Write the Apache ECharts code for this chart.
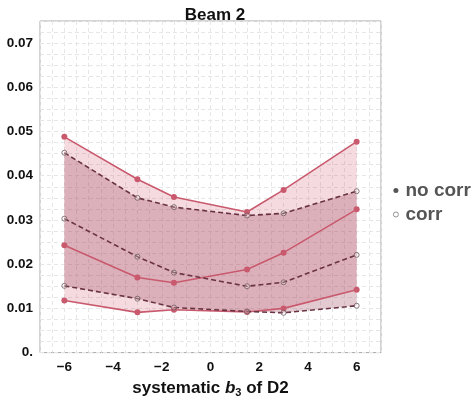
<!DOCTYPE html>
<html><head><meta charset="utf-8">
<script src="https://cdn.jsdelivr.net/npm/echarts@6/dist/echarts.min.js"></script>
<style>html,body{margin:0;padding:0;background:#fff}#c{width:475px;height:403px}</style>
</head><body><div id="c"></div>
<script>
// data
var xValues = [-6, -3, -1.5, 1.5, 3, 6];
var noCorrUpper = [0.0488, 0.0392, 0.0352, 0.0318, 0.0368, 0.0477];
var noCorrMid   = [0.0243, 0.0170, 0.0158, 0.0188, 0.0226, 0.0324];
var noCorrLower = [0.0118, 0.0091, 0.0097, 0.0092, 0.0100, 0.0142];
var corrUpper = [0.0452, 0.0350, 0.0329, 0.0310, 0.0315, 0.0365];
var corrMid   = [0.0303, 0.0217, 0.0181, 0.0150, 0.0159, 0.0221];
var corrLower = [0.0151, 0.0122, 0.0102, 0.0093, 0.0090, 0.0106];
var yTickValues = [0, 0.01, 0.02, 0.03, 0.04, 0.05, 0.06, 0.07];
var yTickLabels = ['0.', '0.01', '0.02', '0.03', '0.04', '0.05', '0.06', '0.07'];
var xTickValues = [-6, -4, -2, 0, 2, 4, 6];
var xTickLabels = ['\u22126', '\u22124', '\u22122', '0', '2', '4', '6'];

function pairs(ys){ return xValues.map(function(x,i){ return [x, ys[i]]; }); }

function band(upper, lower, fill, z){
  return {
    type: 'custom', z: z, silent: true,
    data: [[0, 0]],
    renderItem: function(params, api){
      var pts = [];
      for (var i = 0; i < xValues.length; i++) pts.push(api.coord([xValues[i], upper[i]]));
      for (var j = xValues.length - 1; j >= 0; j--) pts.push(api.coord([xValues[j], lower[j]]));
      return { type: 'polygon', shape: { points: pts }, style: { fill: fill, stroke: null } };
    }
  };
}

var solidColor = '#c95a6e';
var dashColor = '#6a3343';
function solid(name, ys){
  return { name: name, type: 'line', data: pairs(ys), z: 4,
    lineStyle: { color: solidColor, width: 1.6 },
    symbol: 'circle', symbolSize: 6,
    itemStyle: { color: solidColor, borderWidth: 0 } };
}
function dashed(name, ys){
  return { name: name, type: 'line', data: pairs(ys), z: 5,
    lineStyle: { color: dashColor, width: 1.6, type: [5, 3] },
    symbol: 'circle', symbolSize: 5,
    itemStyle: { color: 'rgba(255,255,255,0.25)', borderColor: '#6f5a60', borderWidth: 0.8 } };
}

var gridLine = { show: true, lineStyle: { color: '#e6e6e6', type: [4, 3], width: 1 } };
var labelFont = { fontFamily: 'Liberation Sans, Arial, sans-serif', fontWeight: 'bold', fontSize: 13.5, color: '#111' };

var option = {
  animation: false,
  title: { text: 'Beam 2', left: 210, top: 2, textAlign: 'center',
    textStyle: { fontFamily: 'Liberation Sans, Arial, sans-serif', fontWeight: 'bold', fontSize: 17, color: '#111' } },
  grid: { left: 40, right: 94, top: 21, bottom: 41, show: true, borderColor: '#a8a8a8', borderWidth: 1 },
  legend: {
    orient: 'vertical', left: 388, top: 176, itemGap: 5, itemWidth: 5, itemHeight: 5,
    textStyle: { fontFamily: 'Liberation Sans, Arial, sans-serif', fontWeight: 'bold', fontSize: 19, color: '#555', padding: [0, 0, 0, 2] },
    data: [
      { name: 'no corr', icon: 'circle', itemStyle: { color: '#555', borderWidth: 0 } },
      { name: 'corr', icon: 'circle', itemStyle: { color: '#fff', borderColor: '#777', borderWidth: 0.8 } }
    ]
  },
  xAxis: {
    type: 'value', min: -7, max: 7, interval: 0.5,
    axisLine: { show: false }, axisTick: { show: false },
    splitLine: gridLine,
    axisLabel: Object.assign({ margin: 8, formatter: function(v){
      var i = xTickValues.indexOf(Math.round(v * 2) / 2);
      return i >= 0 ? xTickLabels[i] : '';
    } }, labelFont),
    name: '{a|systematic }{b|b}{s|3}{a| of D2}', nameLocation: 'middle', nameGap: 22,
    nameTextStyle: { rich: {
      a: { fontFamily: 'Liberation Sans, Arial, sans-serif', fontWeight: 'bold', fontSize: 17, color: '#111' },
      b: { fontFamily: 'Liberation Sans, Arial, sans-serif', fontWeight: 'bold', fontStyle: 'italic', fontSize: 17, color: '#111' },
      s: { fontFamily: 'Liberation Sans, Arial, sans-serif', fontWeight: 'bold', fontSize: 11, color: '#111', padding: [9, 0, 0, 0] }
    } }
  },
  yAxis: {
    type: 'value', min: 0, max: 0.075, interval: 0.0025,
    axisLine: { show: false }, axisTick: { show: false },
    splitLine: gridLine,
    axisLabel: Object.assign({ margin: 7, formatter: function(v){
      for (var i = 0; i < yTickValues.length; i++) if (Math.abs(v - yTickValues[i]) < 1e-7) return yTickLabels[i];
      return '';
    } }, labelFont)
  },
  series: [
    band(noCorrUpper, noCorrLower, 'rgba(210,90,115,0.22)', 1),
    band(corrUpper, corrLower, 'rgba(150,60,85,0.27)', 2),
    solid('no corr', noCorrUpper), solid('no corr', noCorrMid), solid('no corr', noCorrLower),
    dashed('corr', corrUpper), dashed('corr', corrMid), dashed('corr', corrLower)
  ]
};
echarts.init(document.getElementById('c'), null, { renderer: 'canvas' }).setOption(option);
</script></body></html>
